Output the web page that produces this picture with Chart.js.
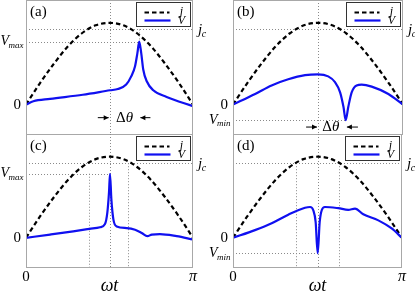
<!DOCTYPE html>
<html>
<head>
<meta charset="utf-8">
<script src="https://cdn.jsdelivr.net/npm/chart.js@4"></script>
<style>
  body { margin: 0; background: #fff; }
  #wrap { position: relative; width: 415px; height: 291px; overflow: hidden; }
  canvas { position: absolute; }
</style>
</head>
<body>
<div id="wrap">
  <canvas id="pa" style="left:0;top:0" width="207" height="135"></canvas>
  <canvas id="pb" style="left:207px;top:0" width="208" height="135"></canvas>
  <canvas id="pc" style="left:0;top:134px" width="207" height="157"></canvas>
  <canvas id="pd" style="left:207px;top:134px" width="208" height="157"></canvas>
</div>
<script>
// x is wt/pi (0 .. 1), y in units of the peak current
const jX = [0, 0.083, 0.167, 0.25, 0.333, 0.417, 0.5, 0.583, 0.667, 0.75, 0.833, 0.917, 1];
const jVal = [0, 0.26, 0.5, 0.71, 0.87, 0.97, 1, 0.97, 0.87, 0.71, 0.5, 0.26, 0];

const aX = [0, 0.044, 0.144, 0.34, 0.503, 0.55, 0.6, 0.63, 0.653, 0.667, 0.678, 0.69, 0.702, 0.723, 0.762, 0.842, 1];
const aV = [0, 0.04, 0.07, 0.12, 0.175, 0.19, 0.245, 0.345, 0.47, 0.63, 0.77, 0.63, 0.43, 0.285, 0.175, 0.094, -0.02];

const bX = [0, 0.13, 0.227, 0.325, 0.424, 0.5, 0.56, 0.6, 0.63, 0.65, 0.663, 0.678, 0.698, 0.727, 0.757, 0.816, 0.914, 1];
const bV = [0, 0.13, 0.235, 0.31, 0.36, 0.37, 0.345, 0.275, 0.15, -0.03, -0.19, -0.03, 0.15, 0.235, 0.245, 0.22, 0.13, 0];

const cX = [0, 0.144, 0.283, 0.38, 0.443, 0.473, 0.487, 0.497, 0.503, 0.511, 0.523, 0.543, 0.603, 0.653, 0.693, 0.727, 0.753, 0.802, 0.902, 1];
const cV = [0, 0.04, 0.08, 0.11, 0.13, 0.17, 0.31, 0.56, 0.79, 0.48, 0.23, 0.14, 0.12, 0.10, 0.06, 0.02, 0.04, 0.045, 0.02, -0.02];

const dX = [0, 0.13, 0.229, 0.327, 0.426, 0.456, 0.475, 0.489, 0.501, 0.513, 0.525, 0.544, 0.623, 0.682, 0.722, 0.771, 0.86, 0.939, 1];
const dV = [0, 0.095, 0.18, 0.285, 0.37, 0.38, 0.34, 0.195, -0.19, 0.195, 0.34, 0.38, 0.365, 0.345, 0.36, 0.29, 0.215, 0.115, 0];

// marked levels
const jc = 0.92;
const vmaxA = 0.77, peakA = 0.678;
const vminB = -0.19, dipB = 0.663;
const vmaxC = 0.79, linesC = [0.377, 0.61];
const vminD = -0.19, linesD = [0.373, 0.627];

const SERIF = '"Liberation Serif"';

function pts(xs, ys) {
    return xs.map((x, i) => ({ x: x, y: ys[i] }));
}

function mathText(ctx, main, sub, x, y, align, size) {
    size = size || 14;
    ctx.font = `italic ${size}px ${SERIF}`;
    const w1 = ctx.measureText(main).width;
    ctx.font = `italic ${Math.round(size * 0.65)}px ${SERIF}`;
    const w2 = sub ? ctx.measureText(sub).width : 0;
    let x0 = x;
    if (align === 'right') x0 = x - w1 - w2;
    if (align === 'center') x0 = x - (w1 + w2) / 2;
    ctx.textAlign = 'left';
    ctx.textBaseline = 'middle';
    ctx.fillStyle = '#000';
    ctx.font = `italic ${size}px ${SERIF}`;
    ctx.fillText(main, x0, y);
    if (sub) {
        ctx.font = `italic ${Math.round(size * 0.65)}px ${SERIF}`;
        ctx.fillText(sub, x0 + w1 - 0.5, y + 4);
    }
}

function arrow(ctx, x1, x2, y) {
    ctx.strokeStyle = '#000';
    ctx.fillStyle = '#000';
    ctx.lineWidth = 1;
    ctx.setLineDash([]);
    ctx.beginPath();
    ctx.moveTo(x1, y);
    ctx.lineTo(x2, y);
    ctx.stroke();
    const s = x2 > x1 ? 1 : -1;
    ctx.beginPath();
    ctx.moveTo(x2, y);
    ctx.lineTo(x2 - s * 5, y - 2.5);
    ctx.lineTo(x2 - s * 5, y + 2.5);
    ctx.closePath();
    ctx.fill();
}

const decor = {
    id: 'decor',
    beforeDatasetsDraw(chart, args, opts) {
        const ctx = chart.ctx, xs = chart.scales.x, ys = chart.scales.y, a = chart.chartArea;
        ctx.save();
        ctx.strokeStyle = '#8a8a8a';
        ctx.lineWidth = 1;
        ctx.setLineDash([1, 2]);
        (opts.hlines || []).forEach(h => {
            const y = Math.round(ys.getPixelForValue(h.y)) + 0.5;
            ctx.beginPath();
            ctx.moveTo(xs.getPixelForValue(h.x0), y);
            ctx.lineTo(xs.getPixelForValue(h.x1), y);
            ctx.stroke();
        });
        (opts.vlines || []).forEach(v => {
            const x = Math.round(xs.getPixelForValue(v.x)) + 0.5;
            ctx.beginPath();
            ctx.moveTo(x, v.y0 === null ? a.top : ys.getPixelForValue(v.y0));
            ctx.lineTo(x, v.y1 === null ? a.bottom : ys.getPixelForValue(v.y1));
            ctx.stroke();
        });
        ctx.restore();
    },
    afterDraw(chart, args, opts) {
        const ctx = chart.ctx, xs = chart.scales.x, ys = chart.scales.y, a = chart.chartArea;
        ctx.save();
        // frame
        ctx.strokeStyle = '#a8a8a8';
        ctx.lineWidth = 1;
        ctx.setLineDash([]);
        ctx.beginPath();
        if (opts.top) { ctx.moveTo(a.left, a.top + 0.5); ctx.lineTo(a.right, a.top + 0.5); }
        ctx.moveTo(a.left + 0.5, a.top); ctx.lineTo(a.left + 0.5, a.bottom + 0.5);
        ctx.moveTo(a.right - 0.5, a.top); ctx.lineTo(a.right - 0.5, a.bottom + 0.5);
        ctx.moveTo(a.left, a.bottom + 0.5); ctx.lineTo(a.right, a.bottom + 0.5);
        ctx.stroke();

        // legend
        const bw = 54, bh = 24;
        const bx = a.right - 2.5 - bw, by = a.top + 2.5;
        ctx.fillStyle = '#fff';
        ctx.fillRect(bx, by, bw, bh);
        ctx.strokeStyle = '#333';
        ctx.strokeRect(bx, by, bw, bh);
        ctx.lineWidth = 2.2;
        ctx.strokeStyle = '#000';
        ctx.setLineDash([4.5, 3]);
        ctx.beginPath();
        ctx.moveTo(bx + 8, by + 10); ctx.lineTo(bx + 33, by + 10);
        ctx.stroke();
        ctx.setLineDash([]);
        ctx.strokeStyle = '#1010f0';
        ctx.beginPath();
        ctx.moveTo(bx + 8, by + 18); ctx.lineTo(bx + 34, by + 18);
        ctx.stroke();
        ctx.fillStyle = '#000';
        ctx.font = `italic 12px ${SERIF}`;
        ctx.textAlign = 'center';
        ctx.textBaseline = 'middle';
        ctx.fillText('j', bx + 45, by + 9);
        ctx.fillText('V', bx + 45, by + 18);

        // panel label
        ctx.font = `15px ${SERIF}`;
        ctx.textAlign = 'left';
        ctx.fillText(opts.label, a.left + 4, a.top + 12);

        // value labels
        ctx.textAlign = 'right';
        ctx.font = `15px ${SERIF}`;
        ctx.fillText('0', a.left - 5, ys.getPixelForValue(0));
        if (opts.vLabel) mathText(ctx, 'V', opts.vLabel.sub, a.left - 2, ys.getPixelForValue(opts.vLabel.y), 'right', 14);
        mathText(ctx, 'j', 'c', a.right + 5, ys.getPixelForValue(jc) + 1, 'left', 15);

        // delta theta
        if (opts.delta) {
            const d = opts.delta;
            const y = ys.getPixelForValue(d.y);
            arrow(ctx, xs.getPixelForValue(d.l0), xs.getPixelForValue(d.l1), y);
            arrow(ctx, xs.getPixelForValue(d.r0), xs.getPixelForValue(d.r1), y);
            const tx = xs.getPixelForValue(d.t);
            ctx.font = `15px ${SERIF}`;
            const wD = ctx.measureText('Δ').width;
            ctx.font = `italic 15px ${SERIF}`;
            const wT = ctx.measureText('θ').width;
            ctx.textAlign = 'left';
            ctx.font = `15px ${SERIF}`;
            ctx.fillText('Δ', tx - (wD + wT) / 2, y);
            ctx.font = `italic 15px ${SERIF}`;
            ctx.fillText('θ', tx - (wD + wT) / 2 + wD, y);
        }

        // bottom axis
        if (opts.bottom) {
            ctx.fillStyle = '#000';
            ctx.font = `15px ${SERIF}`;
            ctx.textAlign = 'center';
            ctx.fillText('0', xs.getPixelForValue(0), a.bottom + 10);
            ctx.font = `italic 16px ${SERIF}`;
            ctx.fillText('π', xs.getPixelForValue(1), a.bottom + 10);
            ctx.font = `italic 18px ${SERIF}`;
            ctx.fillText('ωt', xs.getPixelForValue(0.5), a.bottom + 19);
        }
        ctx.restore();
    }
};

function crearPanel(id, xs, vs, pad, deco) {
    const ctx = document.getElementById(id).getContext('2d');
    return new Chart(ctx, {
        type: 'line',
        data: {
            datasets: [
                {
                    label: 'V',
                    data: pts(xs, vs),
                    borderColor: '#1010f0',
                    borderWidth: 2.2,
                    pointRadius: 0,
                    cubicInterpolationMode: 'monotone',
                    order: 0
                },
                {
                    label: 'j',
                    data: pts(jX, jVal),
                    borderColor: '#000',
                    borderWidth: 2.2,
                    borderDash: [4.5, 3],
                    pointRadius: 0,
                    cubicInterpolationMode: 'monotone',
                    order: 1
                }
            ]
        },
        options: {
            responsive: false,
            animation: false,
            events: [],
            layout: { padding: pad },
            scales: {
                x: { type: 'linear', min: 0, max: 1, display: false },
                y: { type: 'linear', min: -0.36, max: 1.28, display: false }
            },
            plugins: {
                legend: { display: false },
                tooltip: { enabled: false },
                decor: deco
            }
        },
        plugins: [decor]
    });
}

crearPanel('pa', aX, aV, { left: 26, right: 14, top: 0, bottom: 1 }, {
    label: '(a)', top: true,
    vLabel: { sub: 'max', y: vmaxA },
    hlines: [{ y: jc, x0: 0, x1: 1 }, { y: vmaxA, x0: 0, x1: peakA }],
    vlines: [{ x: 0.5, y0: null, y1: null }, { x: peakA, y0: jc, y1: vmaxA }],
    delta: { y: -0.16, l0: 0.43, l1: 0.495, r0: 0.745, r1: 0.685, t: 0.59 }
});

crearPanel('pb', bX, bV, { left: 26, right: 12, top: 0, bottom: 1 }, {
    label: '(b)', top: true,
    vLabel: { sub: 'min', y: vminB },
    hlines: [{ y: jc, x0: 0, x1: 1 }, { y: vminB, x0: 0, x1: dipB }],
    vlines: [{ x: 0.5, y0: null, y1: null }],
    delta: { y: -0.275, l0: 0.43, l1: 0.494, r0: 0.735, r1: 0.67, t: 0.575 }
});

crearPanel('pc', cX, cV, { left: 26, right: 14, top: 0, bottom: 24 }, {
    label: '(c)', bottom: true,
    vLabel: { sub: 'max', y: vmaxC },
    hlines: [{ y: jc, x0: 0, x1: 1 }, { y: vmaxC, x0: 0, x1: 0.503 }],
    vlines: [{ x: 0.503, y0: null, y1: null }, { x: linesC[0], y0: vmaxC, y1: null }, { x: linesC[1], y0: jc, y1: null }]
});

crearPanel('pd', dX, dV, { left: 26, right: 13, top: 0, bottom: 24 }, {
    label: '(d)', bottom: true,
    vLabel: { sub: 'min', y: vminD },
    hlines: [{ y: jc, x0: 0, x1: 1 }, { y: vminD, x0: 0, x1: 0.501 }],
    vlines: [{ x: 0.501, y0: null, y1: null }, { x: linesD[0], y0: jc, y1: null }, { x: linesD[1], y0: jc, y1: null }]
});
</script>
</body>
</html>
